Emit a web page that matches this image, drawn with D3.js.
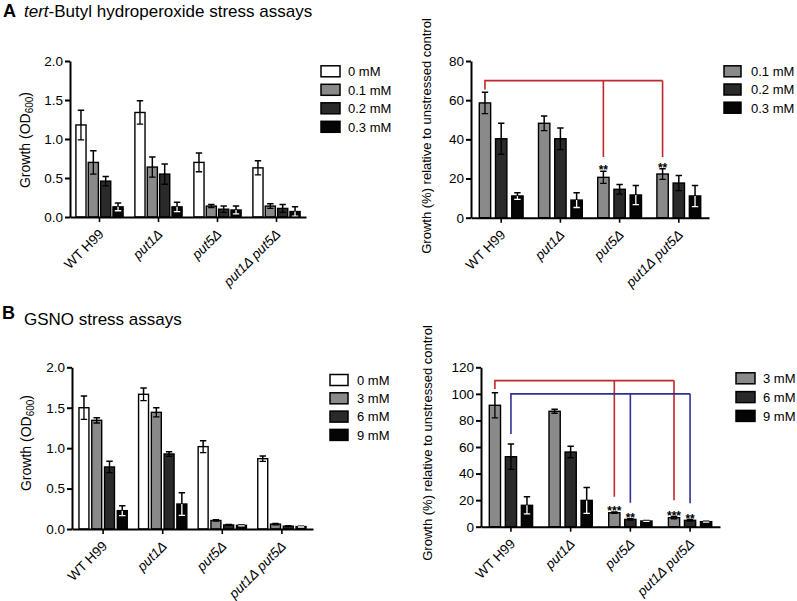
<!DOCTYPE html>
<html><head><meta charset="utf-8">
<script src="https://cdn.jsdelivr.net/npm/d3@7"></script>
<style>
body{margin:0;background:#fff;}
svg text{font-family:"Liberation Sans",Arial,Helvetica,sans-serif;fill:#000;}
</style></head><body>
<svg id="chart" width="797" height="601"></svg>
<script>
// ---------- data ----------
const strains = ["WT H99", "put1Δ", "put5Δ", "put1Δ put5Δ"];
const strainItalic = [false, true, true, true];

// A: tert-Butyl hydroperoxide
const tbhpLevels = ["0 mM", "0.1 mM", "0.2 mM", "0.3 mM"];
const tbhpOD = [
  [1.18, 0.70, 0.46, 0.13],
  [1.34, 0.64, 0.55, 0.13],
  [0.70, 0.14, 0.10, 0.09],
  [0.63, 0.14, 0.11, 0.07]
];
const tbhpODErr = [
  [0.19, 0.15, 0.06, 0.05],
  [0.15, 0.13, 0.13, 0.06],
  [0.12, 0.02, 0.04, 0.05],
  [0.09, 0.03, 0.05, 0.06]
];
const tbhpRelLevels = ["0.1 mM", "0.2 mM", "0.3 mM"];
const tbhpRel = [
  [58.6, 40.3, 11.1],
  [48.2, 40.3, 9.0],
  [20.6, 14.5, 11.6],
  [22.3, 17.7, 11.1]
];
const tbhpRelErr = [
  [5.5, 7.9, 1.7],
  [3.7, 5.5, 3.8],
  [3.1, 2.5, 4.9],
  [2.7, 3.9, 5.4]
];
const tbhpRelStars = [
  ["", "", ""],
  ["", "", ""],
  ["**", "", ""],
  ["**", "", ""]
];
// bracket: level, [group, series, end value]
const tbhpBrackets = [
  {color: "red", level: 70, from: [0, 0, 65.5], to: [[2, 0, 31], [3, 0, 31]]}
];

// B: GSNO
const gsnoLevels = ["0 mM", "3 mM", "6 mM", "9 mM"];
const gsnoOD = [
  [1.50, 1.344, 0.767, 0.227],
  [1.666, 1.443, 0.928, 0.309],
  [1.019, 0.105, 0.050, 0.045],
  [0.870, 0.060, 0.035, 0.030]
];
const gsnoODErr = [
  [0.145, 0.033, 0.070, 0.062],
  [0.078, 0.057, 0.029, 0.140],
  [0.074, 0.008, 0.006, 0.006],
  [0.033, 0.008, 0.006, 0.005]
];
const gsnoRelLevels = ["3 mM", "6 mM", "9 mM"];
const gsnoRel = [
  [91.4, 52.7, 16.1],
  [86.9, 56.2, 19.8],
  [10.5, 5.5, 4.3],
  [6.8, 4.8, 3.8]
];
const gsnoRelErr = [
  [9.5, 9.6, 6.5],
  [1.5, 4.3, 9.8],
  [0.5, 0.5, 0.3],
  [0.8, 0.6, 0.3]
];
const gsnoRelStars = [
  ["", "", ""],
  ["", "", ""],
  ["***", "**", ""],
  ["***", "**", ""]
];
const gsnoBrackets = [
  {color: "red", level: 110, from: [0, 0, 103.7], to: [[2, 0, 22.6], [3, 0, 20]]},
  {color: "blue", level: 100, from: [0, 1, 69.8], to: [[2, 1, 18], [3, 1, 17.6]]}
];

const odTicks = [0, 0.5, 1.0, 1.5, 2.0];
const tbhpRelTicks = [0, 20, 40, 60, 80];
const gsnoRelTicks = [0, 20, 40, 60, 80, 100, 120];

// ---------- styles ----------
const fills4 = ["#ffffff", "#8a8a8a", "#2a2a2a", "#050505"];
const fills3 = ["#8a8a8a", "#2a2a2a", "#050505"];
const bracketColors = {red: "#c1272d", blue: "#2e3192"};

const svg = d3.select("#chart");

function drawPanel(c) {
  const g = svg.append("g");
  const y = d3.scaleLinear().domain([0, c.yMax]).range([c.yBase, c.yTop]);
  const x = d3.scaleBand().domain(d3.range(strains.length))
    .range([c.xStart, c.xEnd]).paddingInner(c.padIn).paddingOuter(c.padOut);
  const xi = d3.scaleBand().domain(d3.range(c.levels.length))
    .range([0, x.bandwidth()]).paddingInner(c.barPad);
  const cx = (gi, si) => x(gi) + xi(si) + xi.bandwidth() / 2;
  const flat = c.values.flatMap((row, gi) => row.map((v, si) => ({gi, si, v, e: c.errors[gi][si]})));

  // bars
  g.selectAll("rect.bar").data(flat).join("rect").attr("class", "bar")
    .attr("x", d => x(d.gi) + xi(d.si))
    .attr("y", d => y(d.v))
    .attr("width", xi.bandwidth())
    .attr("height", d => y(0) - y(d.v))
    .attr("fill", d => c.fills[d.si])
    .attr("stroke", "#000").attr("stroke-width", 1.4);

  // error bars
  const capW = 3.2;
  g.selectAll("path.eu").data(flat).join("path").attr("class", "eu")
    .attr("d", d => {
      const X = cx(d.gi, d.si), yv = y(d.v), yt = y(d.v + d.e);
      return `M${X},${yv}V${yt}M${X - capW},${yt}H${X + capW}`;
    })
    .attr("fill", "none").attr("stroke", "#000").attr("stroke-width", 1.5);
  g.selectAll("path.el").data(flat).join("path").attr("class", "el")
    .attr("d", d => {
      const X = cx(d.gi, d.si), yv = y(d.v), yb = y(Math.max(0, d.v - d.e));
      return `M${X},${yv}V${yb}M${X - capW},${yb}H${X + capW}`;
    })
    .attr("fill", "none")
    .attr("stroke", d => c.fills[d.si] === "#050505" ? "#fff" : "#000")
    .attr("stroke-width", 1.3);

  // significance stars
  if (c.stars) {
    g.selectAll("text.star").data(flat.filter(d => c.stars[d.gi][d.si])).join("text").attr("class", "star")
      .attr("x", d => cx(d.gi, d.si))
      .attr("y", d => y(d.v + d.e) + 3)
      .attr("text-anchor", "middle").attr("font-size", 12).attr("font-weight", "bold")
      .text(d => c.stars[d.gi][d.si]);
  }

  // brackets
  if (c.brackets) {
    c.brackets.forEach(b => {
      const yl = y(b.level);
      const x0 = cx(b.from[0], b.from[1]);
      const ends = b.to.map(t => [cx(t[0], t[1]), y(t[2])]);
      const xMax = d3.max(ends, e => e[0]);
      let d = `M${x0},${y(b.from[2])}V${yl}H${xMax}`;
      ends.forEach(e => { d += `M${e[0]},${yl}V${e[1]}`; });
      g.append("path").attr("d", d).attr("fill", "none")
        .attr("stroke", bracketColors[b.color]).attr("stroke-width", 1.6);
    });
  }

  // axes
  const ya = g.append("g").attr("transform", `translate(${c.xStart},0)`)
    .call(d3.axisLeft(y).tickValues(c.ticks).tickFormat(c.fmt).tickSize(5).tickPadding(2).tickSizeOuter(0));
  ya.attr("font-size", 13.5);
  ya.select(".domain").attr("stroke-width", 2);
  ya.selectAll(".tick line").attr("stroke-width", 2);

  const xa = g.append("g").attr("transform", `translate(0,${c.yBase})`)
    .call(d3.axisBottom(x).tickSize(5).tickSizeOuter(0).tickFormat(() => ""));
  xa.select(".domain").attr("stroke-width", 2);
  xa.selectAll(".tick line").attr("stroke-width", 1.6);

  g.selectAll("text.xl").data(strains).join("text").attr("class", "xl")
    .attr("transform", (d, i) => `translate(${x(i) + x.bandwidth() / 2 + 5},${c.yBase + 18}) rotate(-45)`)
    .attr("text-anchor", "end").attr("font-size", 13.5)
    .attr("font-style", (d, i) => strainItalic[i] ? "italic" : "normal")
    .text(d => d);

  // y label
  const yl = g.append("text")
    .attr("transform", `translate(${c.yLabelX},${c.yLabelY}) rotate(-90)`)
    .attr("text-anchor", "middle").attr("font-size", c.yLabelSize);
  c.yLabel(yl);

  // legend
  const lg = g.selectAll("g.leg").data(c.levels).join("g").attr("class", "leg")
    .attr("transform", (d, i) => `translate(${c.legX},${c.legY + i * c.legStep})`);
  lg.append("rect").attr("x", 0).attr("y", -5.5).attr("width", c.legW).attr("height", 11)
    .attr("fill", (d, i) => c.fills[i]).attr("stroke", "#000").attr("stroke-width", 1.5);
  lg.append("text").attr("x", 27).attr("y", 4.8).attr("font-size", 13).text(d => d);
}

const odLabel = t => {
  t.append("tspan").text("Growth (OD");
  t.append("tspan").attr("font-size", 10).attr("dy", 3).text("600");
  t.append("tspan").attr("dy", -3).text(")");
};
const relLabel = t => t.text("Growth (%) relative to unstressed control");

// Panel A left
drawPanel({values: tbhpOD, errors: tbhpODErr, levels: tbhpLevels, fills: fills4,
  xStart: 70, xEnd: 306, padIn: 0.2, padOut: 0.1, barPad: 0.18,
  yBase: 217, yTop: 61, yMax: 2, ticks: odTicks, fmt: d3.format(".1f"),
  yLabel: odLabel, yLabelX: 30, yLabelY: 140, yLabelSize: 14,
  legX: 321, legY: 71.3, legStep: 18.5, legW: 19});

// Panel A right
drawPanel({values: tbhpRel, errors: tbhpRelErr, levels: tbhpRelLevels, fills: fills3,
  stars: tbhpRelStars, brackets: tbhpBrackets,
  xStart: 471, xEnd: 709, padIn: 0.26, padOut: 0.14, barPad: 0.3,
  yBase: 217.7, yTop: 61, yMax: 80, ticks: tbhpRelTicks, fmt: d3.format("d"),
  yLabel: relLabel, yLabelX: 431, yLabelY: 136, yLabelSize: 13,
  legX: 724, legY: 71.3, legStep: 18.2, legW: 17});

// Panel B left
drawPanel({values: gsnoOD, errors: gsnoODErr, levels: gsnoLevels, fills: fills4,
  xStart: 72, xEnd: 313, padIn: 0.19, padOut: 0.117, barPad: 0.22,
  yBase: 529, yTop: 367.3, yMax: 2, ticks: odTicks, fmt: d3.format(".1f"),
  yLabel: odLabel, yLabelX: 30.5, yLabelY: 443, yLabelSize: 14,
  legX: 330, legY: 380, legStep: 18.3, legW: 18});

// Panel B right
drawPanel({values: gsnoRel, errors: gsnoRelErr, levels: gsnoRelLevels, fills: fills3,
  stars: gsnoRelStars, brackets: gsnoBrackets,
  xStart: 481, xEnd: 720, padIn: 0.275, padOut: 0.139, barPad: 0.3,
  yBase: 526.7, yTop: 367.3, yMax: 120, ticks: gsnoRelTicks, fmt: d3.format("d"),
  yLabel: relLabel, yLabelX: 432, yLabelY: 443, yLabelSize: 13,
  legX: 736, legY: 378.3, legStep: 18.8, legW: 19});

// Titles
svg.append("text").attr("x", 3).attr("y", 17).attr("font-size", 18).attr("font-weight", "bold").text("A");
const tA2 = svg.append("text").attr("x", 24).attr("y", 17).attr("font-size", 17);
tA2.append("tspan").attr("font-style", "italic").text("tert");
tA2.append("tspan").text("-Butyl hydroperoxide stress assays");
svg.append("text").attr("x", 2).attr("y", 319).attr("font-size", 18).attr("font-weight", "bold").text("B");
svg.append("text").attr("x", 24).attr("y", 325).attr("font-size", 17).text("GSNO stress assays");
</script>
</body></html>
